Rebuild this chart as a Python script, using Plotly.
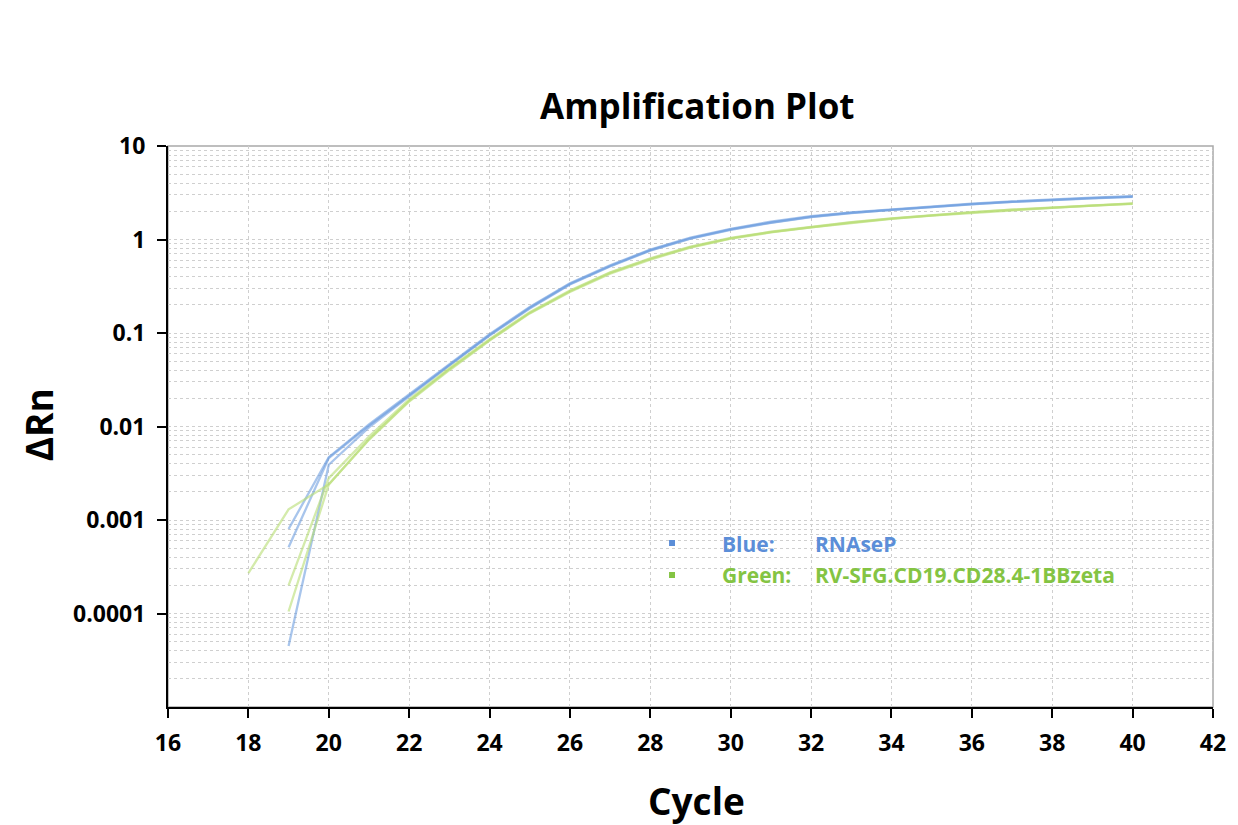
import plotly.graph_objects as go

# ---------------- data ----------------
cycles_19 = list(range(19, 41))
cycles_18 = list(range(18, 41))

blue_rep1 = [8.0e-4, 4.7e-3, 0.0105, 0.022, 0.047, 0.097, 0.19, 0.34, 0.53, 0.78, 1.05,
             1.30, 1.55, 1.78, 1.95, 2.10, 2.27, 2.42, 2.56, 2.70, 2.80, 2.90]
blue_rep2 = [5.1e-4, 4.6e-3, 0.0102, 0.0215, 0.046, 0.095, 0.186, 0.335, 0.52, 0.77, 1.03,
             1.28, 1.52, 1.75, 1.93, 2.08, 2.24, 2.39, 2.53, 2.66, 2.77, 2.87]
blue_rep3 = [4.5e-5, 3.9e-3, 0.0098, 0.021, 0.045, 0.094, 0.183, 0.33, 0.515, 0.76, 1.02,
             1.27, 1.51, 1.74, 1.92, 2.07, 2.23, 2.38, 2.52, 2.65, 2.76, 2.86]

green_rep1 = [2.7e-4, 1.3e-3, 2.4e-3, 0.0072, 0.0185, 0.040, 0.083, 0.162, 0.275, 0.43, 0.61,
              0.82, 1.02, 1.19, 1.35, 1.51, 1.66, 1.80, 1.93, 2.06, 2.18, 2.30, 2.40]
green_rep2 = [2.0e-4, 2.8e-3, 0.0078, 0.0195, 0.042, 0.086, 0.167, 0.285, 0.445, 0.63, 0.84,
              1.04, 1.21, 1.37, 1.53, 1.68, 1.83, 1.96, 2.09, 2.21, 2.33, 2.43]
green_rep3 = [1.05e-4, 2.4e-3, 0.0073, 0.0188, 0.041, 0.084, 0.164, 0.28, 0.44, 0.62, 0.83,
              1.03, 1.20, 1.36, 1.52, 1.67, 1.82, 1.95, 2.08, 2.20, 2.32, 2.42]

x_ticks = list(range(16, 43, 2))
y_tickvals = [1e-4, 1e-3, 1e-2, 1e-1, 1, 10]
y_ticktext = ["0.0001", "0.001", "0.01", "0.1", "1", "10"]

legend_rows = [("Blue:", "RNAseP"), ("Green:", "RV-SFG.CD19.CD28.4-1BBzeta")]

# ---------------- styling ----------------
BLUE = "#6f9fe0"
GREEN = "#b8de74"
BLUE_TXT = "#5b8ed8"
GREEN_TXT = "#84c443"
FONT = "Open Sans"
OFF = 8                     # page body margin of the html page
W, H = 1238 - OFF, 825 - OFF
L, R, T, B = 168, 1215, 146, 707   # plot area in page pixels


def px(x):
    return (x - L) / (R - L)


def py(y):
    return (B - y) / (B - T)


fig = go.Figure()
for xs, ys, c in [
    (cycles_19, blue_rep1, BLUE), (cycles_19, blue_rep2, BLUE), (cycles_19, blue_rep3, BLUE),
    (cycles_18, green_rep1, GREEN), (cycles_19, green_rep2, GREEN), (cycles_19, green_rep3, GREEN),
]:
    fig.add_trace(go.Scatter(x=xs, y=ys, mode="lines", line=dict(color=c, width=2.3),
                             opacity=0.6, showlegend=False, hoverinfo="skip"))

grid_col = "#cfcfcf"
tickfont = dict(family=FONT, size=23, weight="bold", color="black")
fig.update_layout(
    width=W, height=H,
    margin=dict(l=L - OFF, r=1238 - R, t=T - OFF, b=825 - B),
    paper_bgcolor="white", plot_bgcolor="white",
    font=dict(family=FONT, color="black"),
    xaxis=dict(
        range=[16, 42], tickvals=x_ticks, showgrid=True, gridcolor=grid_col,
        griddash="dot", gridwidth=1, zeroline=False,
        showline=True, linecolor="black", linewidth=2,
        ticks="outside", ticklen=9, tickwidth=2, tickcolor="black",
        tickfont=tickfont, ticklabelstandoff=5,
    ),
    yaxis=dict(
        type="log", range=[-5, 1], tickvals=y_tickvals, ticktext=y_ticktext,
        showgrid=True, gridcolor=grid_col, griddash="dot", gridwidth=1, zeroline=False,
        showline=True, linecolor="black", linewidth=2,
        ticks="outside", ticklen=9, tickwidth=2, tickcolor="black",
        tickfont=tickfont, ticklabelstandoff=7,
        minor=dict(dtick="D1", showgrid=True, gridcolor=grid_col, griddash="dot",
                   gridwidth=1, ticks=""),
    ),
    shapes=[
        dict(type="rect", xref="paper", yref="paper", x0=0, y0=0, x1=1, y1=1,
             line=dict(color="#a9a9a9", width=1.5), layer="below"),
        dict(type="rect", xref="paper", yref="paper",
             x0=px(670), x1=px(676), y0=py(546), y1=py(540),
             fillcolor=BLUE_TXT, line=dict(width=0)),
        dict(type="rect", xref="paper", yref="paper",
             x0=px(670), x1=px(676), y0=py(578), y1=py(572),
             fillcolor=GREEN_TXT, line=dict(width=0)),
    ],
)

annos = [
    dict(text="Amplification Plot", x=px(699), y=py(105),
         font=dict(family=FONT, size=35, weight="bold", color="black")),
    dict(text="Cycle", x=px(698), y=py(800),
         font=dict(family=FONT, size=37, weight="bold", color="black")),
    dict(text="ΔRn", x=px(38), y=py(425), textangle=-90,
         font=dict(family=FONT, size=37, weight="bold", color="black")),
]
for i, (lab, name) in enumerate(legend_rows):
    col = BLUE_TXT if i == 0 else GREEN_TXT
    yy = py(544 + 31 * i)
    annos.append(dict(text=lab, x=px(721), y=yy, xanchor="left",
                      font=dict(family=FONT, size=21, weight="bold", color=col)))
    annos.append(dict(text=name, x=px(814), y=yy, xanchor="left",
                      font=dict(family=FONT, size=21, weight="bold", color=col)))
for a in annos:
    a.update(xref="paper", yref="paper", showarrow=False)
    a.setdefault("xanchor", "center")
    a.setdefault("yanchor", "middle")
fig.update_layout(annotations=annos)

fig.write_html("out.html")
